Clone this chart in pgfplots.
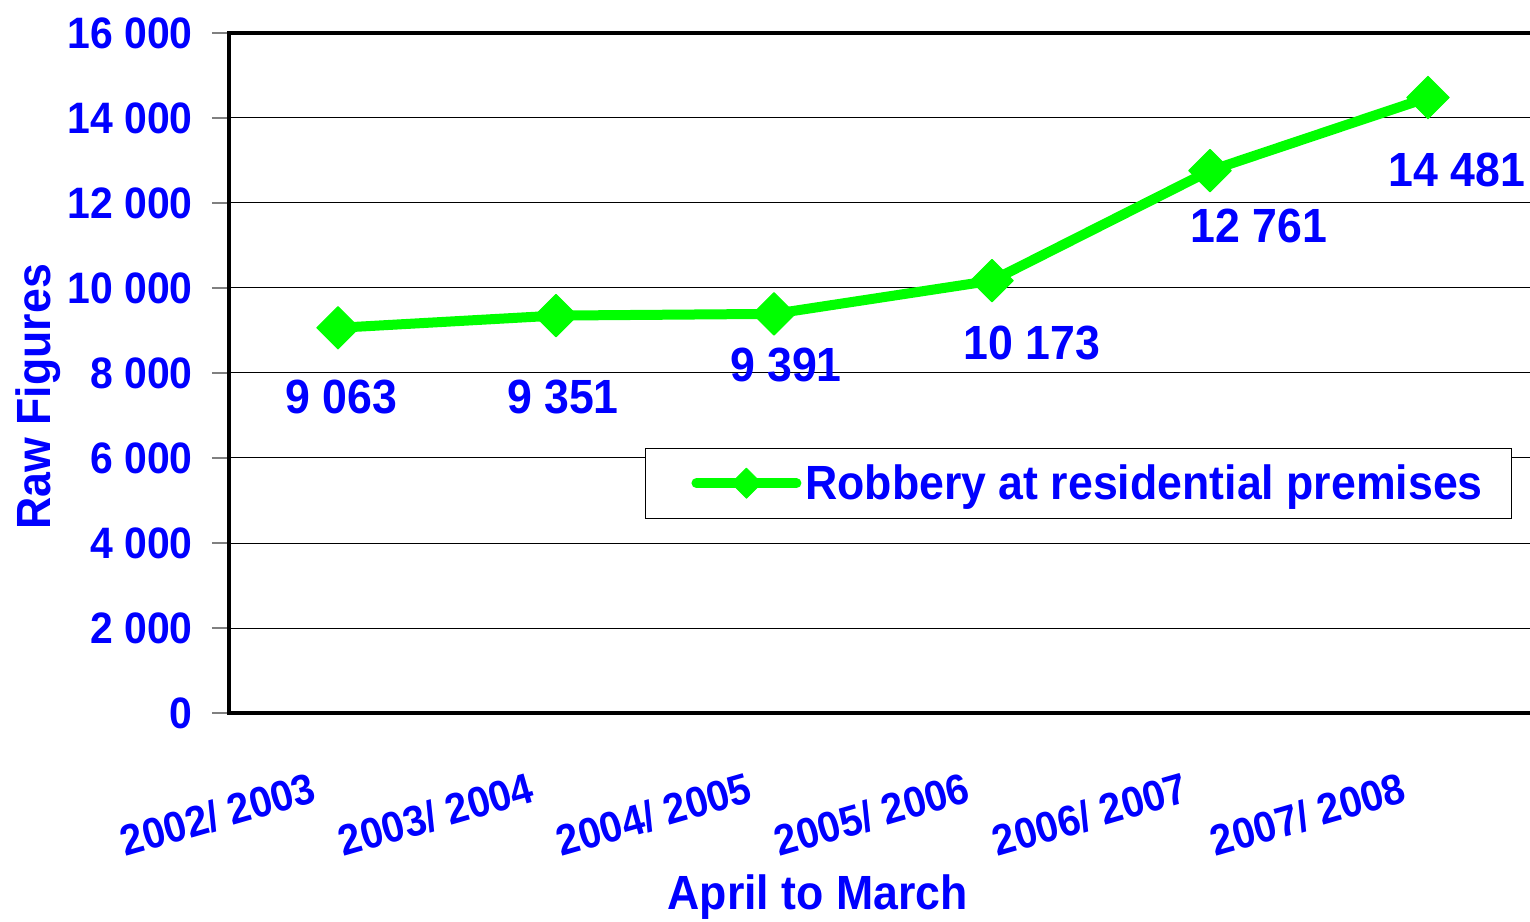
\documentclass[border=0pt]{standalone}
\usepackage{fontspec}
\setmainfont{Liberation Sans}[FakeStretch=0.93]
\usepackage{pgfplots}
\pgfplotsset{compat=1.18}
\definecolor{lblue}{RGB}{0,0,255}
\definecolor{lgreen}{RGB}{0,255,0}
\begin{document}
\begin{tikzpicture}
\begin{axis}[
  at={(0,0)}, anchor=south west,
  scale only axis, width=654pt, height=340pt,
  xmin=-0.5, xmax=5.5, ymin=0, ymax=16000,
  clip=false,
  scaled y ticks=false,
  xtick={0,1,2,3,4,5},
  xticklabels={2002/ 2003,2003/ 2004,2004/ 2005,2005/ 2006,2006/ 2007,2007/ 2008},
  xtick style={draw=none},
  xticklabel style={xshift=-14pt, yshift=-20.5pt, rotate=16, anchor=north east, inner sep=0pt,
    font=\fontsize{21.5}{26}\selectfont\bfseries, text=lblue},
  ytick={0,2000,4000,6000,8000,10000,12000,14000,16000},
  yticklabels={0,2 000,4 000,6 000,8 000,10 000,12 000,14 000,16 000},
  ytick pos=left,
  tick align=outside, major tick length=8.5pt,
  ytick style={gray, line width=0.8pt},
  yticklabel style={xshift=-9.5pt, anchor=east, inner sep=0pt, font=\fontsize{22}{26}\selectfont\bfseries, text=lblue},
  ymajorgrids, grid style={black, line width=0.5pt},
  axis line style={line width=2pt},
  every axis x label/.style={at={(axis description cs:0.450,-0.271)}, anchor=center,
    font=\fontsize{24}{28}\selectfont\bfseries, text=lblue},
  every axis y label/.style={at={(axis description cs:-0.146,0.465)}, rotate=90, anchor=center,
    font=\fontsize{24}{28}\selectfont\bfseries, text=lblue},
  xlabel={April to March},
  ylabel={Raw Figures},
  legend style={at={(rel axis cs:0.318,0.39)}, anchor=north west, draw=black, line width=0.5pt,
    font=\fontsize{24}{28}\selectfont\bfseries, text=lblue, inner xsep=0pt, inner ysep=6pt},
  legend image code/.code={\path (-23pt,0pt); \draw[#1,mark repeat=2,mark phase=2, mark size=5.3pt] plot coordinates {(0pt,0pt) (25pt,0pt) (50pt,0pt)};},
]
\addplot[lgreen, line width=5pt, line join=round, line cap=round,
  mark=square*, mark size=7.5pt, mark options={rotate=45, fill=lgreen, draw=lgreen, line width=0.5pt, solid}]
  coordinates {(0,9063) (1,9351) (2,9391) (3,10173) (4,12761) (5,14481)};
\addlegendentry{Robbery at residential premises\hspace*{12.5pt}}
\node[text=lblue, font=\fontsize{24}{28}\selectfont\bfseries] at (axis cs:0.014,7435) {9 063};
\node[text=lblue, font=\fontsize{24}{28}\selectfont\bfseries] at (axis cs:1.032,7435) {9 351};
\node[text=lblue, font=\fontsize{24}{28}\selectfont\bfseries] at (axis cs:2.055,8188) {9 391};
\node[text=lblue, font=\fontsize{24}{28}\selectfont\bfseries] at (axis cs:3.183,8706) {10 173};
\node[text=lblue, font=\fontsize{24}{28}\selectfont\bfseries] at (axis cs:4.225,11459) {12 761};
\node[text=lblue, font=\fontsize{24}{28}\selectfont\bfseries] at (axis cs:5.133,12776) {14 481};
\end{axis}
\pgfresetboundingbox
\useasboundingbox (-114.5pt,-104pt) rectangle (650.5pt,356.5pt);
\end{tikzpicture}
\end{document}
